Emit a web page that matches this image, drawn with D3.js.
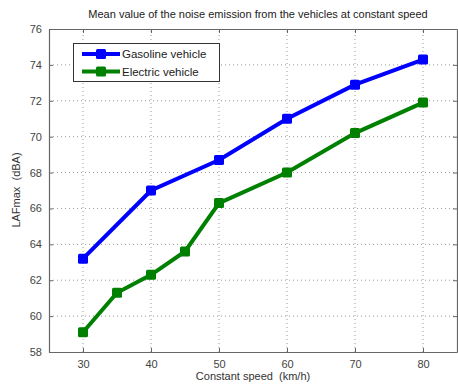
<!DOCTYPE html>
<html>
<head>
<meta charset="utf-8">
<script src="https://cdn.jsdelivr.net/npm/d3@7"></script>
<style>
	body { margin: 0; background: #fff; }
	text { font-family: "Liberation Sans", Arial, sans-serif; }
</style>
</head>
<body>
<div id="chart"></div>
<script>
const speedsGas = [30, 40, 50, 60, 70, 80]
const gasoline = [63.2, 67.0, 68.7, 71.0, 72.9, 74.3]
const speedsElec = [30, 35, 40, 45, 50, 60, 70, 80]
const electric = [59.1, 61.3, 62.3, 63.6, 66.3, 68.0, 70.2, 71.9]
const xTicks = [30, 40, 50, 60, 70, 80]
const yTicks = [58, 60, 62, 64, 66, 68, 70, 72, 74, 76]
const seriesNames = ['Gasoline vehicle', 'Electric vehicle']
const seriesColors = ['#0000ff', '#008000']

const width = 458, height = 385
const margin = { top: 29, right: 1, bottom: 33, left: 49 }

let svg = d3.select('#chart')
	.append('svg')
	.attr('width', width)
	.attr('height', height)

let x = d3.scaleLinear().domain([25, 85]).range([margin.left, width - margin.right])
let y = d3.scaleLinear().domain([58, 76]).range([height - margin.bottom, margin.top])

let axisColor = '#666'

// grid
let grid = svg.append('g')
grid.selectAll('.gx')
	.data(xTicks)
	.enter()
		.append('line')
		.attr('x1', d => x(d)).attr('x2', d => x(d))
		.attr('y1', y(58)).attr('y2', y(76))
		.attr('stroke', '#999')
		.attr('stroke-width', 1)
		.attr('stroke-dasharray', '1,3')
grid.selectAll('.gy')
	.data(yTicks.slice(1, -1))
	.enter()
		.append('line')
		.attr('x1', x(25)).attr('x2', x(85))
		.attr('y1', d => y(d)).attr('y2', d => y(d))
		.attr('stroke', '#999')
		.attr('stroke-width', 1)
		.attr('stroke-dasharray', '1,3')

// axes, ticks pointing inward
svg.append('g')
	.attr('transform', `translate(0,${y(58)})`)
	.call(d3.axisBottom(x).tickValues(xTicks).tickSizeInner(-4).tickSizeOuter(0).tickPadding(8))
svg.append('g')
	.attr('transform', `translate(0,${y(76)})`)
	.call(d3.axisTop(x).tickValues(xTicks).tickSizeInner(-4).tickSizeOuter(0).tickFormat(''))
svg.append('g')
	.attr('transform', `translate(${x(25)},0)`)
	.call(d3.axisLeft(y).tickValues(yTicks).tickSizeInner(-4).tickSizeOuter(0).tickPadding(7))
svg.append('g')
	.attr('transform', `translate(${x(85)},0)`)
	.call(d3.axisRight(y).tickValues(yTicks).tickSizeInner(-4).tickSizeOuter(0).tickFormat(''))

svg.selectAll('.domain').attr('stroke', axisColor).attr('stroke-width', 1.2)
svg.selectAll('.tick line').attr('stroke', axisColor)
svg.selectAll('.tick text')
	.attr('fill', '#444')
	.style('font-size', '11px')

// series
let line = d3.line()
	.x(d => x(d[0]))
	.y(d => y(d[1]))

let series = [
	d3.zip(speedsGas, gasoline),
	d3.zip(speedsElec, electric)
]

series.forEach((pts, i) => {
	let g = svg.append('g')
	g.append('path')
		.datum(pts)
		.attr('d', line)
		.attr('fill', 'none')
		.attr('stroke', seriesColors[i])
		.attr('stroke-width', 4)
	g.selectAll('rect')
		.data(pts)
		.enter()
			.append('rect')
			.attr('x', d => x(d[0]) - 5)
			.attr('y', d => y(d[1]) - 5)
			.attr('width', 10)
			.attr('height', 10)
			.attr('rx', 1.5)
			.attr('fill', seriesColors[i])
})

// legend
let legend = svg.append('g')
legend.append('rect')
	.attr('x', 73.5).attr('y', 43.5)
	.attr('width', 146).attr('height', 38)
	.attr('fill', '#fff')
	.attr('stroke', '#333')
	.attr('stroke-width', 1)
seriesNames.forEach((name, i) => {
	let ly = 54 + i * 17.5
	legend.append('line')
		.attr('x1', 82).attr('x2', 120)
		.attr('y1', ly).attr('y2', ly)
		.attr('stroke', seriesColors[i])
		.attr('stroke-width', 4)
	legend.append('rect')
		.attr('x', 96).attr('y', ly - 5)
		.attr('width', 10).attr('height', 10)
		.attr('rx', 1.5)
		.attr('fill', seriesColors[i])
	legend.append('text')
		.attr('x', 122).attr('y', ly)
		.attr('dy', '0.35em')
		.style('font-size', '11.5px')
		.attr('fill', '#222')
		.text(name)
})

// title and labels
svg.append('text')
	.attr('x', 258).attr('y', 18)
	.attr('text-anchor', 'middle')
	.style('font-size', '11px')
	.attr('fill', '#222')
	.text('Mean value of the noise emission from the vehicles at constant speed')

svg.append('text')
	.attr('x', 253).attr('y', 380)
	.attr('text-anchor', 'middle')
	.style('font-size', '11px')
	.attr('fill', '#333')
	.attr('xml:space', 'preserve')
	.text('Constant speed  (km/h)')

svg.append('text')
	.attr('transform', 'translate(20,190) rotate(-90)')
	.attr('text-anchor', 'middle')
	.style('font-size', '11px')
	.attr('fill', '#333')
	.attr('xml:space', 'preserve')
	.text('LAFmax  (dBA)')
</script>
</body>
</html>
